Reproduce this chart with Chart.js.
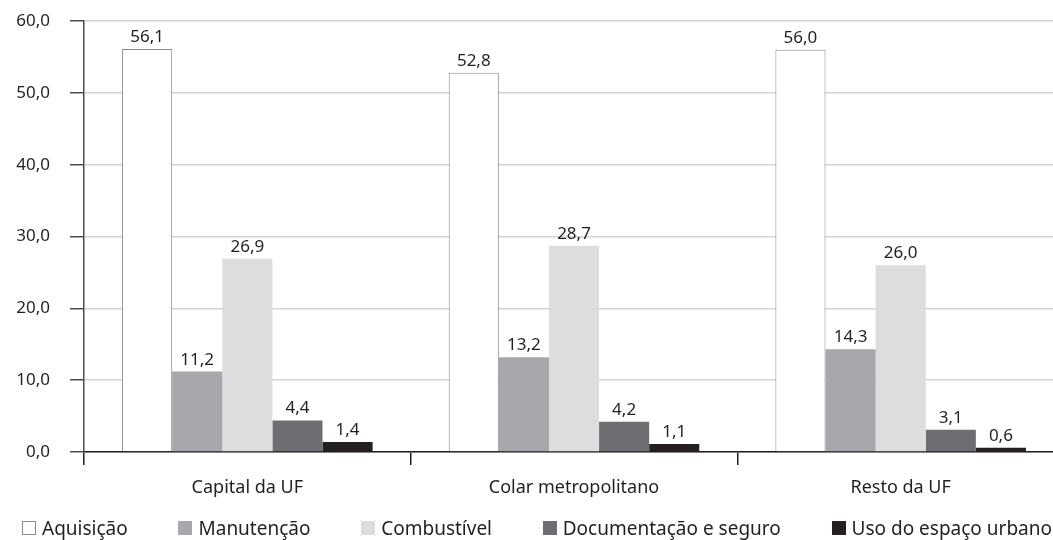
<!DOCTYPE html>
<html>
<head>
<meta charset="utf-8">
<script src="https://cdn.jsdelivr.net/npm/chart.js@4.4.1/dist/chart.umd.min.js"></script>
<style>
  html, body { margin: 0; padding: 0; background: #fff; overflow: hidden; }
  #wrap { position: relative; width: 1064px; height: 540px; }
  #legend {
    position: absolute; left: 22px; top: 517px; width: 1030px;
    display: flex; justify-content: space-between; align-items: center;
    font: 19px 'Noto Sans', 'Open Sans', sans-serif; color: #231f20;
    line-height: 22px;
  }
  #legend span.item { display: flex; align-items: center; white-space: nowrap; }
  #legend span.box { display: inline-block; width: 14px; height: 14px; margin-right: 6px; box-sizing: border-box; }
</style>
</head>
<body>
<div id="wrap">
  <canvas id="chart"></canvas>
  <div id="legend"></div>
</div>
<script>
// Categories and series
const categories = ['Capital da UF', 'Colar metropolitano', 'Resto da UF'];
const seriesNames = ['Aquisição', 'Manutenção', 'Combustível', 'Documentação e seguro', 'Uso do espaço urbano'];
const aquisicao = [56.1, 52.8, 56.0];
const manutencao = [11.2, 13.2, 14.3];
const combustivel = [26.9, 28.7, 26.0];
const documentacao = [4.4, 4.2, 3.1];
const usoUrbano = [1.4, 1.1, 0.6];

const fills = ['#ffffff', '#a7a8ab', '#dcdddf', '#6d6e71', '#231f20'];
const borders = ['#8a8a8c', '#a7a8ab', '#dcdddf', '#6d6e71', '#231f20'];
const FONT = "'Noto Sans', 'Open Sans', sans-serif";

const fmt = v => v.toFixed(1).replace('.', ',');

// draw value labels above each bar
const valueLabels = {
    id: 'valueLabels',
    afterDatasetsDraw(chart) {
        const ctx = chart.ctx;
        ctx.save();
        ctx.font = '17px ' + FONT;
        ctx.fillStyle = '#231f20';
        ctx.textAlign = 'center';
        ctx.textBaseline = 'alphabetic';
        chart.data.datasets.forEach((ds, i) => {
            chart.getDatasetMeta(i).data.forEach((bar, j) => {
                ctx.fillText(fmt(ds.data[j]), bar.x, bar.y - 7);
            });
        });
        ctx.restore();
    }
};

const allSeries = [aquisicao, manutencao, combustivel, documentacao, usoUrbano];

new Chart(document.getElementById('chart'), {
    type: 'bar',
    data: {
        labels: categories,
        datasets: allSeries.map((d, i) => ({
            label: seriesNames[i],
            data: d,
            backgroundColor: fills[i],
            borderColor: borders[i],
            borderWidth: i === 0 ? 1 : 0,
            categoryPercentage: 0.767,
            barPercentage: 1.0
        }))
    },
    options: {
        responsive: true,
        maintainAspectRatio: false,
        animation: false,
        layout: { padding: 0 },
        plugins: {
            tooltip: { enabled: false },
            legend: { display: false }
        },
        scales: {
            x: {
                afterFit(scale) { scale.height = 88; },
                grid: {
                    drawOnChartArea: false,
                    tickLength: 13,
                    tickColor: '#231f20',
                    lineWidth: 1.5
                },
                border: { color: '#231f20', width: 1.5 },
                ticks: {
                    font: { family: FONT, size: 18 },
                    color: '#231f20',
                    padding: 12
                }
            },
            y: {
                min: 0,
                max: 60,
                afterFit(scale) {
                    scale.width = 84;
                    scale.paddingTop = 21;
                    scale.paddingBottom = 0;
                },
                ticks: {
                    stepSize: 10,
                    font: { family: FONT, size: 17 },
                    color: '#231f20',
                    padding: 20,
                    callback: v => fmt(v)
                },
                grid: {
                    color: '#d4d4d6',
                    tickColor: '#4d4d4f',
                    tickLength: 14,
                    lineWidth: 1.5
                },
                border: { color: '#4d4d4f', width: 1.5 }
            }
        }
    },
    plugins: [valueLabels]
});

// legend built from the same names and colours
const legend = document.getElementById('legend');
seriesNames.forEach((name, i) => {
    const item = document.createElement('span');
    item.className = 'item';
    const box = document.createElement('span');
    box.className = 'box';
    box.style.background = fills[i];
    box.style.border = '1px solid ' + borders[i];
    item.appendChild(box);
    item.appendChild(document.createTextNode(name));
    legend.appendChild(item);
});
</script>
</body>
</html>
